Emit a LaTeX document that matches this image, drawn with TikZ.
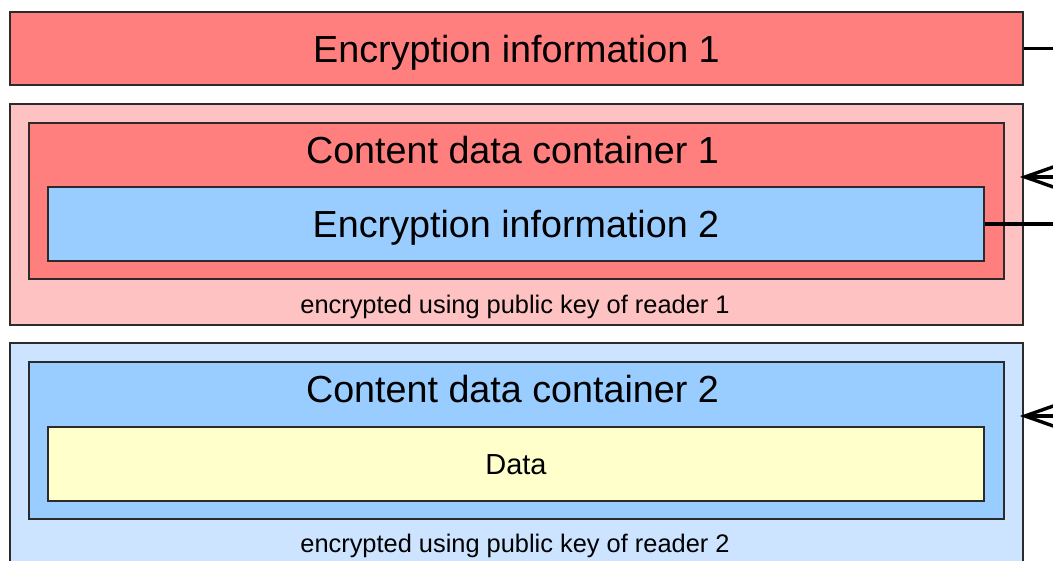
\documentclass[tikz,border=0pt]{standalone}
\usepackage{fontspec}
\setmainfont{Liberation Sans}
\usetikzlibrary{arrows.meta}
\definecolor{redfill}{HTML}{FF7F7F}
\definecolor{pinkfill}{HTML}{FFC2C2}
\definecolor{bluefill}{HTML}{99CCFF}
\definecolor{skyfill}{HTML}{CCE4FF}
\definecolor{yellowfill}{HTML}{FFFFCC}
\definecolor{rim}{HTML}{2B2B2B}
\tikzset{>={Straight Barb[length=34pt,width=24pt]}}
\tikzset{
  layer/.style={draw=rim, line width=1.6pt, inner sep=0pt},
  bigtext/.style={font=\fontsize{37.7}{44}\selectfont, inner sep=0pt},
  midtext/.style={font=\fontsize{29}{34}\selectfont, inner sep=0pt},
  smalltext/.style={font=\fontsize{25.4}{30}\selectfont, inner sep=0pt, anchor=base},
  wire/.style={line width=3.4pt}
}

\begin{document}
\begin{tikzpicture}[x=1pt,y=-1pt]

  \newcommand\XM{516.5}
  \newcommand\WA{1013pt}
  \newcommand\WB{975pt}
  \newcommand\WC{936pt}

  \useasboundingbox (0,0) rectangle (1053,560);
  \coordinate (edge) at (1060,0);

  % key for reader 1
  \node[layer, fill=redfill, minimum width=\WA, minimum height=73pt,
        bigtext, text height=27pt, text depth=0pt]
    (info1) at (\XM, 48.5) {Encryption information 1};

  % block for reader 1
  \node[layer, fill=pinkfill, minimum width=\WA, minimum height=221pt]
    (crypt1) at (\XM, 214.5) {};
  \node[layer, fill=redfill, minimum width=\WB, minimum height=156pt]
    (cont1) at (\XM, 201) {};
  \node[bigtext, anchor=base] (cont1title) at (512.5, 163) {Content data container 1};
  \node[layer, fill=bluefill, minimum width=\WC, minimum height=74pt,
        bigtext, text height=27pt, text depth=0pt]
    (info2) at (516, 224) {Encryption information 2};
  \node[smalltext] (crypt1note) at (515, 313) {encrypted using public key of reader 1};

  % block for reader 2
  \node[layer, fill=skyfill, minimum width=\WA, minimum height=221pt]
    (crypt2) at (\XM, 453.5) {};
  \node[layer, fill=bluefill, minimum width=\WB, minimum height=157pt]
    (cont2) at (\XM, 440.5) {};
  \node[bigtext, anchor=base] (cont2title) at (512.5, 402) {Content data container 2};
  \node[layer, fill=yellowfill, minimum width=\WC, minimum height=74pt,
        midtext, text height=21pt, text depth=0pt]
    (data) at (516, 464) {Data};
  \node[smalltext] (crypt2note) at (515, 552) {encrypted using public key of reader 2};

  % keys leaving and entering on the right
  \coordinate (key1) at (1060, 177);
  \coordinate (key2) at (1060, 416);
  \draw[wire] (info1.east) -- (info1.east -| edge);
  \draw[wire] (info2.east) -- (info2.east -| edge);
  \draw[wire, ->, shorten >=-4pt] (key1) -- (key1 -| crypt1.east);
  \draw[wire, ->, shorten >=-4pt] (key2) -- (key2 -| crypt2.east);

\end{tikzpicture}
\end{document}
